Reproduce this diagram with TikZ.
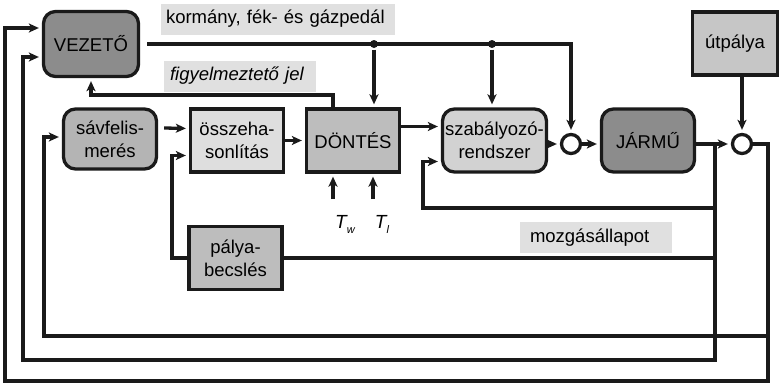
\documentclass[tikz,border=0pt]{standalone}
\usepackage{fontspec}
\setmainfont{Liberation Sans}
\usetikzlibrary{arrows.meta}
\definecolor{dark}{HTML}{8C8C8C}
\definecolor{mid}{HTML}{B4B4B4}
\definecolor{pale}{HTML}{DEDEDE}
\definecolor{grey}{HTML}{BDBDBD}
\definecolor{soft}{HTML}{D2D2D2}
\definecolor{road}{HTML}{C6C6C6}
\definecolor{lbl}{HTML}{E0E0E0}
\definecolor{ink}{HTML}{1A1A1A}
\tikzset{
  arr/.style = {-{Stealth[length=10pt,width=9pt,inset=2.5pt]}, shorten >=3pt},
  blk/.style = {draw=ink, minimum width=93pt, minimum height=63pt, align=center, inner sep=1pt},
  rblk/.style = {blk, rounded corners=12pt},
  tag/.style = {fill=lbl, inner ysep=0pt, minimum height=31pt, align=left},
  sum/.style = {circle, draw=ink, fill=white, minimum size=19pt, inner sep=0pt},
  dot/.style = {circle, fill=ink, inner sep=0pt, minimum size=8pt},
  sub/.style = {font=\fontsize{19}{23}\itshape}
}

\begin{document}
\begin{tikzpicture}[x=1pt, y=-1pt, line width=3.3pt, draw=ink,
    font=\fontsize{18.5}{23}\selectfont]
  \useasboundingbox (0,0) rectangle (780,383);

  \node[rblk, fill=dark, minimum width=95pt, minimum height=65pt] (vezeto) at (91,44) {VEZETŐ};
  \node[rblk, fill=mid, minimum height=60pt] (savfel) at (110,139) {sávfelis-\\merés};
  \node[blk, fill=pale] (osszeh) at (237,140.5) {összeha-\\sonlítás};
  \node[blk, fill=grey] (dontes) at (353,140.5) {DÖNTÉS};
  \node[rblk, fill=soft, minimum width=104pt] (szab) at (494.5,140.5) {szabályozó-\\rendszer};
  \node[sum] (sum1) at (571,144) {};
  \node[rblk, fill=dark] (jarmu) at (648,140.5) {JÁRMŰ};
  \node[sum] (sum2) at (742,144) {};
  \node[blk, fill=road, minimum width=85pt] (utpalya) at (735,43.5) {útpálya};
  \node[blk, fill=grey] (palya) at (235.5,258) {pálya-\\becslés};

  \node[tag, text width=224pt, inner xsep=5pt] (kormany) at (278,19) {kormány, fék- és gázpedál};
  \node[tag, text width=140pt, inner xsep=6pt] (figy) at (240,76) {\itshape figyelmeztető jel};
  \node[tag, text width=132pt, inner xsep=10pt] (mozgas) at (596,237.5) {mozgásállapot};
  \node[sub] (tw) at (345,224) {T\raisebox{-5pt}{\fontsize{11}{11}\selectfont w}};
  \node[sub] (tl) at (382,224) {T\raisebox{-5pt}{\fontsize{11}{11}\selectfont l}};

  \node[dot] (dot1) at (374,44) {};
  \node[dot] (dot2) at (492,44) {};
  \coordinate (warn) at (200,95);
  \coordinate (tw0) at (333,199);
  \coordinate (tl0) at (373,199);
  \coordinate (br) at (715,144);
  \coordinate (fbA) at (423,208);
  \coordinate (lowB) at (23,360);
  \coordinate (pin) at (172,200);
  \coordinate (cR) at (768,381);
  \coordinate (cL) at (5,381);
  \coordinate (cM) at (768,336);
  \coordinate (cM2) at (44,336);

  \draw[arr] ([xshift=7pt]vezeto.east) -| (sum1.north);
  \draw[arr] (dot1) -- (dot1 |- dontes.north);
  \draw[arr] (dot2) -- (dot2 |- szab.north);
  \draw[arr] ([xshift=-20pt]dontes.north) |- (warn) -| (vezeto.south);
  \draw[arr] ([xshift=6pt,yshift=11pt]savfel.east) -- ([yshift=12pt]osszeh.west);
  \draw[arr] (osszeh.east) -- (dontes.west);
  \draw[arr] ([yshift=14pt]dontes.east) -- ([yshift=14pt]szab.west);
  \draw[arr] (tw0) -- (tw0 |- dontes.south);
  \draw[arr] (tl0) -- (tl0 |- dontes.south);
  \draw[arr] (szab.east |- sum1.west) -- (sum1.west);
  \draw[arr] (sum1.east) -- (jarmu.west |- sum1.east);
  \draw[arr] (jarmu.east |- sum2.west) -- (sum2.west);
  \draw[arr] (sum2 |- utpalya.south) -- (sum2.north);

  \draw[arr] (br) |- (fbA) |- ([yshift=-21pt]szab.west);
  \draw[arr] (br) |- (lowB) |- ([yshift=-13pt]vezeto.west);
  \draw (palya.east) -- (palya.east -| br);
  \draw[arr] (palya.west) -| (pin) |- ([yshift=-15pt]osszeh.west);
  \draw[arr] (sum2.east) -| (cR) -- (cL) |- ([yshift=16pt]vezeto.west);
  \draw[arr] (cM) -- (cM2) |- ([yshift=2pt]savfel.west);
\end{tikzpicture}
\end{document}
